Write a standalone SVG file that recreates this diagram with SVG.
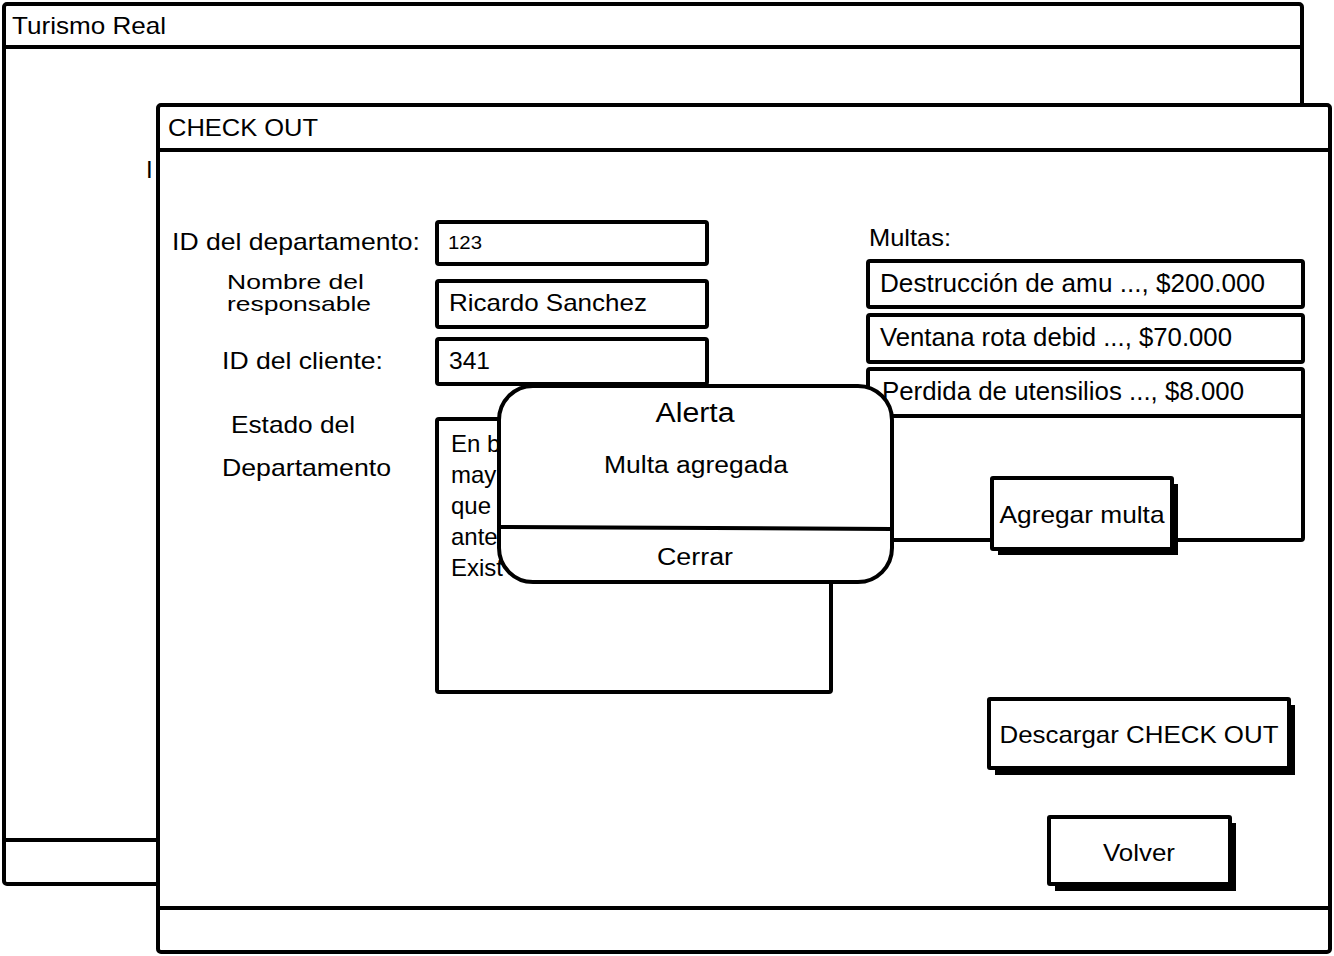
<svg xmlns="http://www.w3.org/2000/svg" width="1334" height="956" viewBox="0 0 1334 956">
<style>
.box{fill:#fff;stroke:#000;stroke-width:4;stroke-linejoin:round}
.ln{stroke:#000;stroke-width:4;stroke-linecap:round;fill:none}
.sh{fill:#000}
text{font-family:"Liberation Sans","Open Sans",Arial,sans-serif;fill:#000;font-size:24px}
.c{text-anchor:middle}
</style>
<rect width="1334" height="956" fill="#fff"/>
<g id="win-outer">
<rect class="box" x="4" y="4" width="1298" height="880" rx="3"/>
<line class="ln" x1="4" y1="47" x2="1302" y2="47"/>
<line class="ln" x1="4" y1="840" x2="1302" y2="840"/>
<text x="12" y="34" textLength="154" lengthAdjust="spacingAndGlyphs">Turismo Real</text>
<text x="146" y="178">I</text>
</g>
<g id="win-checkout">
<rect class="box" x="158" y="105" width="1172" height="847" rx="3"/>
<line class="ln" x1="158" y1="150" x2="1330" y2="150"/>
<line class="ln" x1="158" y1="908" x2="1330" y2="908"/>
<text x="168" y="136" textLength="150" lengthAdjust="spacingAndGlyphs">CHECK OUT</text>
</g>
<g id="lbl-id-depto">
<text x="172" y="250" textLength="248" lengthAdjust="spacingAndGlyphs">ID del departamento:</text>
</g>
<g id="fld-id-depto">
<rect class="box" x="437" y="222" width="270" height="42" rx="2"/>
<text x="448" y="249" style="font-size:19px" textLength="34" lengthAdjust="spacingAndGlyphs">123</text>
</g>
<g id="lbl-nombre">
<text x="227" y="289" style="font-size:21px" textLength="137" lengthAdjust="spacingAndGlyphs">Nombre del</text>
<text x="227" y="311" style="font-size:21px" textLength="144" lengthAdjust="spacingAndGlyphs">responsable</text>
</g>
<g id="fld-nombre">
<rect class="box" x="437" y="281" width="270" height="46" rx="2"/>
<text x="449" y="311" textLength="198" lengthAdjust="spacingAndGlyphs">Ricardo Sanchez</text>
</g>
<g id="lbl-cliente">
<text x="222" y="369" textLength="161" lengthAdjust="spacingAndGlyphs">ID del cliente:</text>
</g>
<g id="fld-cliente">
<rect class="box" x="437" y="339" width="270" height="45" rx="2"/>
<text x="449" y="369" textLength="41" lengthAdjust="spacingAndGlyphs">341</text>
</g>
<g id="lbl-estado">
<text x="231" y="433" textLength="124" lengthAdjust="spacingAndGlyphs">Estado del</text>
<text x="222" y="476" textLength="169" lengthAdjust="spacingAndGlyphs">Departamento</text>
</g>
<g id="fld-estado">
<rect class="box" x="437" y="419" width="394" height="273" rx="2"/>
<text x="451" y="452">En b</text>
<text x="451" y="483">may</text>
<text x="451" y="514">que</text>
<text x="451" y="545">ante</text>
<text x="451" y="576">Exist</text>
</g>
<g id="lbl-multas">
<text x="869" y="246" textLength="82" lengthAdjust="spacingAndGlyphs">Multas:</text>
</g>
<g id="list-multas">
<rect class="box" x="868" y="410" width="435" height="130" rx="2"/>
<rect class="box" x="868" y="261" width="435" height="46" rx="2"/>
<text x="880" y="292" style="font-size:25px" textLength="385" lengthAdjust="spacingAndGlyphs">Destrucción de amu ..., $200.000</text>
<rect class="box" x="868" y="315" width="435" height="47" rx="2"/>
<text x="880" y="346" style="font-size:25px" textLength="352" lengthAdjust="spacingAndGlyphs">Ventana rota debid ..., $70.000</text>
<rect class="box" x="868" y="369" width="435" height="47" rx="2"/>
</g>
<g id="btn-agregar">
<rect class="sh" x="998" y="484" width="180" height="71"/>
<rect class="box" x="992" y="478" width="180" height="71" rx="1"/>
<text class="c" x="1082" y="523" textLength="165" lengthAdjust="spacingAndGlyphs">Agregar multa</text>
</g>
<g id="btn-descargar">
<rect class="sh" x="995" y="705" width="300" height="70"/>
<rect class="box" x="989" y="699" width="300" height="69" rx="1"/>
<text class="c" x="1139" y="743" textLength="279" lengthAdjust="spacingAndGlyphs">Descargar CHECK OUT</text>
</g>
<g id="btn-volver">
<rect class="sh" x="1055" y="823" width="181" height="68"/>
<rect class="box" x="1049" y="817" width="181" height="67" rx="1"/>
<text class="c" x="1139" y="861" textLength="72" lengthAdjust="spacingAndGlyphs">Volver</text>
</g>
<g id="dlg-alerta">
<rect class="box" x="499" y="386" width="393" height="196" rx="34"/>
<line class="ln" x1="499" y1="527" x2="892" y2="529"/>
<text class="c" x="695" y="422" style="font-size:27px" textLength="79" lengthAdjust="spacingAndGlyphs">Alerta</text>
<text class="c" x="696" y="473" style="font-size:23px" textLength="184" lengthAdjust="spacingAndGlyphs">Multa agregada</text>
<text class="c" x="695" y="565" style="font-size:23px" textLength="76" lengthAdjust="spacingAndGlyphs">Cerrar</text>
</g>
<g id="item-perdida-label">
<text x="882" y="400" style="font-size:25px" textLength="362" lengthAdjust="spacingAndGlyphs">Perdida de utensilios ..., $8.000</text>
</g>
<g id="connectors"></g>
</svg>
